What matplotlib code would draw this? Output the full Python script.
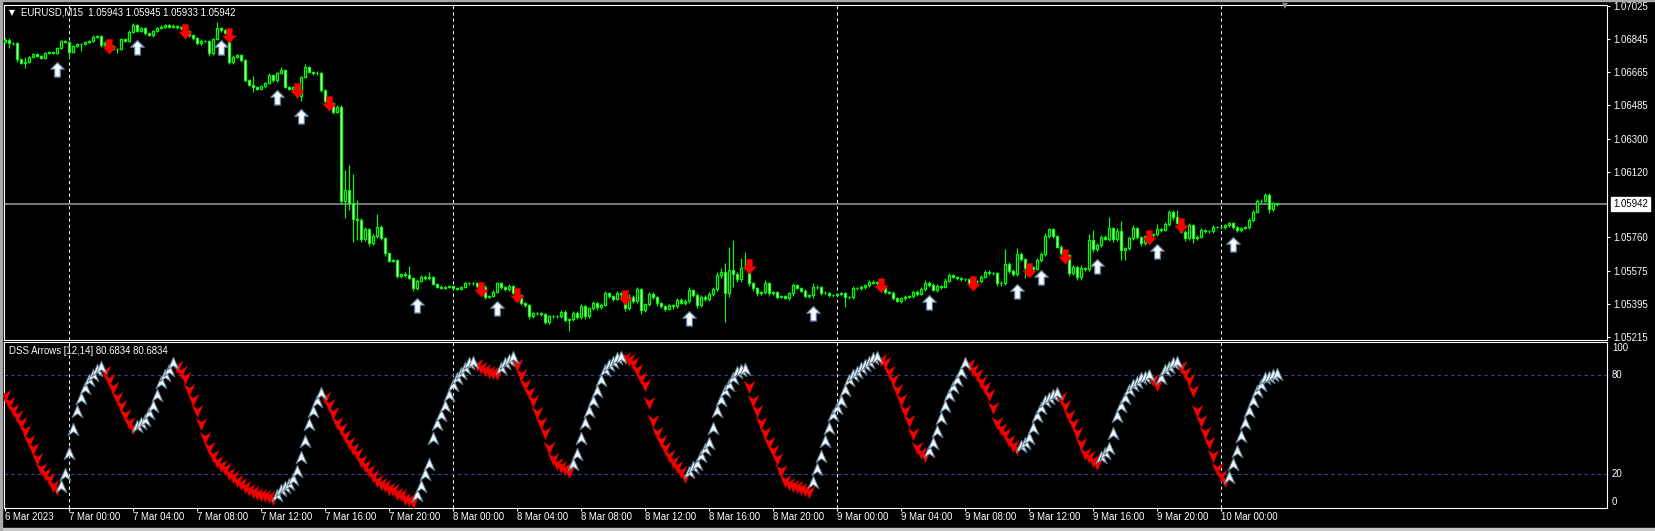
import matplotlib
matplotlib.use("Agg")
import matplotlib.pyplot as plt
from matplotlib.path import Path
from matplotlib.patches import Rectangle
import numpy as np

plt.rcParams['font.family'] = ['Liberation Sans', 'DejaVu Sans']

# ---------------- data ----------------
symbol = "EURUSD,M15"
last_ohlc = ["1.05943", "1.05945", "1.05933", "1.05942"]
dss_title = "DSS Arrows [12,14] 80.6834 80.6834"
last_price = 1.05942
first_open = 1.06830

closes = [
    1.06839, 1.06821, 1.06824, 1.06733, 1.06715, 1.06717, 1.06744, 1.06762, 1.06753, 1.06742, 1.06766, 1.06771, 1.06770, 1.06793, 1.06833, 1.06828,
    1.06775, 1.06806, 1.06815, 1.06817, 1.06830, 1.06835, 1.06857, 1.06859, 1.06812, 1.06824, 1.06806, 1.06788, 1.06790, 1.06843, 1.06835, 1.06885,
    1.06921, 1.06890, 1.06903, 1.06875, 1.06866, 1.06890, 1.06903, 1.06912, 1.06919, 1.06912, 1.06917, 1.06908, 1.06903, 1.06886, 1.06866, 1.06848,
    1.06821, 1.06835, 1.06833, 1.06766, 1.06843, 1.06903, 1.06894, 1.06879, 1.06720, 1.06748, 1.06757, 1.06730, 1.06620, 1.06593, 1.06580, 1.06573,
    1.06587, 1.06606, 1.06648, 1.06620, 1.06657, 1.06675, 1.06584, 1.06573, 1.06580, 1.06533, 1.06638, 1.06689, 1.06666, 1.06657, 1.06660, 1.06565,
    1.06507, 1.06496, 1.06447, 1.06474, 1.05960, 1.06019, 1.05946, 1.05858, 1.05855, 1.05749, 1.05803, 1.05727, 1.05767, 1.05818, 1.05754, 1.05672,
    1.05632, 1.05636, 1.05548, 1.05559, 1.05552, 1.05539, 1.05481, 1.05523, 1.05545, 1.05537, 1.05545, 1.05505, 1.05490, 1.05484, 1.05490, 1.05494,
    1.05481, 1.05479, 1.05490, 1.05508, 1.05510, 1.05508, 1.05494, 1.05490, 1.05435, 1.05441, 1.05463, 1.05508, 1.05486, 1.05475, 1.05494, 1.05457,
    1.05444, 1.05402, 1.05388, 1.05329, 1.05348, 1.05344, 1.05340, 1.05298, 1.05329, 1.05331, 1.05329, 1.05353, 1.05308, 1.05315, 1.05348, 1.05326,
    1.05384, 1.05329, 1.05371, 1.05402, 1.05377, 1.05391, 1.05453, 1.05439, 1.05424, 1.05453, 1.05448, 1.05371, 1.05432, 1.05413, 1.05475, 1.05362,
    1.05395, 1.05450, 1.05432, 1.05399, 1.05384, 1.05370, 1.05390, 1.05382, 1.05417, 1.05402, 1.05413, 1.05472, 1.05444, 1.05390, 1.05435, 1.05422,
    1.05450, 1.05475, 1.05554, 1.05572, 1.05453, 1.05581, 1.05559, 1.05530, 1.05590, 1.05596, 1.05508, 1.05481, 1.05453, 1.05461, 1.05508, 1.05453,
    1.05459, 1.05435, 1.05437, 1.05430, 1.05453, 1.05499, 1.05484, 1.05468, 1.05439, 1.05442, 1.05490, 1.05486, 1.05457, 1.05457, 1.05442, 1.05444,
    1.05450, 1.05455, 1.05432, 1.05432, 1.05481, 1.05483, 1.05488, 1.05497, 1.05517, 1.05512, 1.05514, 1.05490, 1.05459, 1.05457, 1.05426, 1.05413,
    1.05428, 1.05435, 1.05441, 1.05463, 1.05450, 1.05475, 1.05512, 1.05501, 1.05472, 1.05494, 1.05490, 1.05523, 1.05554, 1.05545, 1.05535, 1.05530,
    1.05530, 1.05505, 1.05523, 1.05519, 1.05545, 1.05572, 1.05563, 1.05566, 1.05508, 1.05512, 1.05614, 1.05577, 1.05559, 1.05669, 1.05639, 1.05590,
    1.05596, 1.05588, 1.05636, 1.05669, 1.05767, 1.05803, 1.05767, 1.05709, 1.05672, 1.05663, 1.05563, 1.05596, 1.05541, 1.05590, 1.05587, 1.05745,
    1.05694, 1.05718, 1.05763, 1.05752, 1.05809, 1.05749, 1.05796, 1.05690, 1.05701, 1.05754, 1.05809, 1.05760, 1.05727, 1.05767, 1.05772, 1.05776,
    1.05803, 1.05800, 1.05833, 1.05900, 1.05869, 1.05840, 1.05791, 1.05754, 1.05827, 1.05754, 1.05763, 1.05800, 1.05794, 1.05793, 1.05818, 1.05818,
    1.05814, 1.05825, 1.05836, 1.05818, 1.05800, 1.05811, 1.05816, 1.05855, 1.05900, 1.05960, 1.05960, 1.05991, 1.05913, 1.05946, 1.05942,
]

# wick lengths beyond the body, in points (0.00001)
wick_up = [
    10, 9, 6, 5, 4, 27, 6, 8, 5, 4, 6, 8, 5, 7, 6, 4,
    5, 6, 8, 4, 6, 5, 7, 9, 6, 8, 5, 4, 6, 7, 5, 8,
    9, 6, 5, 7, 4, 6, 5, 8, 6, 5, 7, 4, 6, 5, 7, 5,
    6, 8, 5, 4, 7, 36, 6, 5, 8, 7, 6, 5, 6, 8, 51, 6,
    7, 6, 9, 5, 8, 15, 6, 5, 7, 8, 6, 20, 6, 5, 7, 6,
    5, 8, 6, 9, 10, 109, 137, 160, 106, 8, 12, 6, 9, 69, 7, 6,
    5, 8, 6, 7, 9, 49, 6, 8, 9, 7, 27, 5, 6, 7, 5, 6,
    5, 4, 6, 8, 5, 4, 7, 6, 9, 5, 8, 10, 6, 7, 9, 6,
    7, 5, 6, 8, 6, 5, 7, 6, 8, 5, 6, 9, 7, 6, 8, 10,
    9, 7, 10, 8, 6, 9, 12, 7, 8, 14, 6, 9, 16, 12, 15, 10,
    8, 12, 9, 7, 10, 6, 8, 7, 9, 12, 8, 18, 7, 9, 8, 10,
    9, 12, 14, 20, 46, 128, 164, 12, 55, 86, 30, 8, 9, 7, 18, 10,
    7, 9, 6, 8, 10, 14, 8, 7, 9, 6, 18, 8, 7, 9, 6, 8,
    7, 6, 8, 6, 12, 7, 9, 6, 12, 8, 7, 6, 9, 7, 8, 6,
    7, 9, 6, 8, 10, 12, 14, 8, 7, 9, 6, 12, 10, 8, 6, 7,
    6, 8, 7, 6, 10, 12, 8, 7, 6, 9, 80, 10, 12, 31, 9, 8,
    7, 9, 12, 10, 14, 9, 8, 7, 9, 8, 6, 10, 8, 18, 7, 33,
    55, 12, 10, 8, 60, 9, 14, 55, 8, 12, 16, 9, 8, 7, 10, 6,
    30, 8, 12, 10, 8, 40, 9, 7, 12, 5, 8, 10, 7, 6, 9, 5,
    6, 7, 8, 6, 5, 7, 6, 9, 10, 12, 8, 14, 9, 7, 3,
]
wick_dn = [
    8, 27, 7, 12, 9, 27, 6, 5, 8, 7, 5, 6, 9, 6, 5, 7,
    36, 8, 6, 36, 7, 5, 8, 6, 9, 7, 8, 6, 18, 7, 9, 6,
    8, 7, 6, 9, 7, 8, 6, 5, 7, 6, 5, 8, 7, 6, 9, 8,
    7, 9, 6, 12, 8, 6, 9, 7, 10, 12, 8, 9, 10, 8, 24, 7,
    9, 8, 7, 10, 8, 6, 9, 7, 8, 10, 27, 8, 9, 7, 8, 12,
    10, 8, 12, 9, 10, 97, 36, 122, 109, 14, 10, 12, 9, 8, 10, 12,
    9, 8, 12, 10, 8, 9, 14, 10, 8, 9, 10, 8, 9, 7, 8, 9,
    8, 7, 9, 6, 8, 7, 9, 10, 12, 9, 8, 10, 9, 8, 10, 9,
    12, 10, 9, 14, 10, 9, 8, 12, 10, 9, 8, 10, 12, 58, 10, 14,
    12, 14, 10, 9, 12, 10, 9, 12, 10, 9, 12, 16, 10, 12, 14, 20,
    12, 10, 9, 12, 10, 14, 10, 12, 9, 8, 10, 12, 10, 14, 12, 9,
    10, 12, 9, 14, 155, 20, 69, 14, 12, 10, 14, 12, 16, 10, 12, 14,
    10, 12, 9, 8, 10, 12, 9, 8, 10, 12, 14, 9, 10, 8, 9, 10,
    9, 8, 51, 9, 10, 8, 9, 10, 8, 9, 10, 12, 9, 8, 10, 9,
    10, 8, 9, 12, 10, 8, 9, 10, 8, 9, 10, 8, 9, 10, 8, 9,
    9, 10, 8, 12, 10, 9, 8, 10, 12, 14, 10, 12, 9, 10, 8, 55,
    9, 10, 8, 9, 10, 8, 12, 10, 9, 12, 14, 10, 12, 14, 10, 9,
    12, 10, 9, 8, 10, 12, 9, 55, 55, 10, 8, 9, 12, 10, 9, 8,
    10, 9, 8, 10, 12, 9, 10, 12, 9, 27, 10, 8, 9, 10, 8, 9,
    10, 8, 9, 10, 12, 9, 8, 10, 12, 9, 10, 8, 18, 10, 9,
]

# bars carrying signal arrows on the price chart
up_signals = [13, 33, 54, 68, 74, 103, 123, 171, 202, 231, 253, 259, 273, 288, 307]
down_signals = [26, 45, 56, 73, 81, 119, 128, 155, 186, 219, 242, 256, 265, 286, 294]

dss = [
    67, 63, 59, 55, 51, 46, 40, 35, 29, 23, 20, 17, 13, 11,
    13, 20, 33, 47, 58, 66, 72, 77, 80, 83, 85,
    82, 77, 72, 66, 61, 56, 51, 48,
    49, 51, 53, 57, 61, 68, 76, 80, 83, 87,
    85, 82, 78, 71, 65, 58, 50, 42, 36, 31, 27, 25, 23, 20, 18, 16, 14, 12, 10, 9, 8, 7, 6.5, 6, 5,
    7, 10, 12, 14, 17, 22, 30, 40, 50, 58, 64, 69,
    66, 62, 57, 51, 47, 43, 39, 35, 32, 28, 25, 22, 19, 16, 14, 13, 11, 10, 8, 7, 5, 4, 3,
    7, 13, 20, 26, 42, 50, 56, 61, 68, 74, 78, 81, 84, 87, 88,
    86, 84, 83, 82, 81, 80.5, 84, 87, 89, 91,
    86, 80, 74, 69, 64, 57, 51, 45, 36, 29, 26, 24, 23, 21,
    26, 32, 42, 51, 58, 64, 70, 77, 83, 86, 88, 90, 91,
    90, 89, 87, 83, 78, 74, 63, 52, 45, 40, 36, 31, 27, 24, 21, 18,
    21, 24, 26, 31, 35, 39, 48, 58, 65, 70, 74, 78, 82, 83, 83.5,
    73, 64, 58, 51, 45, 39, 34, 29, 22, 16, 14, 13, 12, 11, 10, 9,
    15, 23, 31, 40, 48, 56, 60, 64, 71, 77, 80, 82, 84, 86, 88, 90, 91,
    89, 87, 82, 77, 71, 65, 58, 52, 44, 36, 33, 31,
    34, 39, 46, 54, 61, 68, 73, 77, 82, 87,
    86, 83, 80, 76, 72, 68, 60, 51, 47, 44, 40, 37, 35,
    37, 39, 42, 48, 55, 60, 64, 66, 68, 69,
    66, 61, 55, 50, 45, 38, 32, 30, 28, 26,
    30, 33, 36, 45, 55, 61, 66, 71, 74, 76, 78, 79, 80,
    77, 74, 78, 83, 85, 87, 88,
    85, 81, 77, 70, 58, 52, 45, 39, 31, 23, 19, 16,
    18, 26, 34, 43, 51, 58, 64, 70, 74, 78, 79, 80, 80.6834,
]

price_ticks = [1.07025, 1.06845, 1.06665, 1.06485, 1.06300, 1.06120,
               1.05760, 1.05575, 1.05395, 1.05215]
dss_levels = [80, 20]
dss_scale_labels = [("100", 96.4), ("80", 80), ("20", 20), ("0", 3.0)]
time_labels = ["6 Mar 2023", "7 Mar 00:00", "7 Mar 04:00", "7 Mar 08:00", "7 Mar 12:00",
               "7 Mar 16:00", "7 Mar 20:00", "8 Mar 00:00", "8 Mar 04:00", "8 Mar 08:00",
               "8 Mar 12:00", "8 Mar 16:00", "8 Mar 20:00", "9 Mar 00:00", "9 Mar 04:00",
               "9 Mar 08:00", "9 Mar 12:00", "9 Mar 16:00", "9 Mar 20:00", "10 Mar 00:00"]
bars_per_label = 16
day_starts = [16, 112, 208, 304]

# ---------------- figure ----------------
W, H = 1655, 531
fig = plt.figure(figsize=(W / 100, H / 100), dpi=100, facecolor='black')

def fx(px):
    return px / W

def fy(py):
    return 1 - py / H

ax = fig.add_axes([fx(4), fy(339.5), fx(1607) - fx(4), fy(5) - fy(339.5)])
ax2 = fig.add_axes([fx(4), fy(508.3), fx(1607) - fx(4), fy(341.5) - fy(508.3)])

LIME = '#00ff00'
n = len(closes)
x = np.arange(n)
c = np.array(closes)
o = np.concatenate([[first_open], c[:-1]])
wu = np.resize(np.array(wick_up, dtype=float), n)
wd = np.resize(np.array(wick_dn, dtype=float), n)
hi = np.maximum(o, c) + wu * 1e-5
lo = np.minimum(o, c) - wd * 1e-5

for a in (ax, ax2):
    a.set_facecolor('black')
    for sp in a.spines.values():
        sp.set_color('white')
        sp.set_linewidth(0.8)
    a.set_xlim(-0.25, 400.5)
    for d in day_starts:
        a.axvline(d, color='white', lw=0.75, ls=(0, (3, 3)), zorder=1)

# price chart
ax.set_ylim(1.052013, 1.070305)
ax.axhline(last_price, color='#9a9aa4', lw=1.1, zorder=1)
ax.vlines(x, lo, hi, color=LIME, lw=0.85, zorder=2)
bull = c >= o
bear = ~bull
ax.bar(x[bull], (c - o)[bull], bottom=o[bull], width=0.52, facecolor='black',
       edgecolor=LIME, linewidth=0.9, zorder=3)
ax.bar(x[bear], (o - c)[bear], bottom=c[bear], width=0.52, facecolor='white',
       edgecolor=LIME, linewidth=0.9, zorder=3)

px_price = (1.070305 - 1.052013) / 334.5
up_path = Path([(0, 0), (6.5, -6.5), (2.8, -6.5), (2.8, -14), (-2.8, -14), (-2.8, -6.5), (-6.5, -6.5), (0, 0)],
               [1, 2, 2, 2, 2, 2, 2, 79])
dn_path = Path([(-2.8, 0), (2.8, 0), (2.8, -7), (6.5, -7), (0, -14), (-6.5, -7), (-2.8, -7), (-2.8, 0)],
               [1, 2, 2, 2, 2, 2, 2, 79])
ui = np.array(up_signals)
di = np.array(down_signals)
ax.plot(ui, lo[ui] - 8 * px_price, ls='none', marker=up_path, ms=21,
        mfc='#f4faff', mec='#5b7896', mew=0.9, zorder=5)
ax.plot(di, hi[di] + 3 * px_price, ls='none', marker=dn_path, ms=21,
        mfc='#ff0000', mec='#d00000', mew=0.4, zorder=5)

ax.yaxis.tick_right()
ax.set_yticks(price_ticks)
ax.set_yticklabels([f"{p:.5f}" for p in price_ticks])
ax.tick_params(axis='y', colors='white', length=2.2, width=0.8, pad=2.2, labelsize=6.9)
ax.set_xticks([])
ax.annotate(f"{last_price:.5f}", xy=(1, last_price), xycoords=('axes fraction', 'data'),
            xytext=(6, 0), textcoords='offset pixels', va='center', ha='left',
            fontsize=6.9, color='black',
            bbox=dict(boxstyle='square,pad=0.25', fc='white', ec='white'))

# DSS panel
ax2.set_ylim(-0.8, 100.3)
for lv in dss_levels:
    ax2.axhline(lv, color='#40409c', lw=0.8, ls=(0, (3, 3)), zorder=1)
dv = np.array(dss, dtype=float)
m = len(dv)
xd = np.arange(m)
rising = np.concatenate([[False], dv[1:] > dv[:-1]])
red_head = Path([(-3.5, 4), (0, 1.5), (3.5, 4), (0, -4), (-3.5, 4)], [1, 2, 2, 2, 79])
white_head = Path([(-3.5, -4), (0, -1.5), (3.5, -4), (0, 4), (-3.5, -4)], [1, 2, 2, 2, 79])
ax2.plot(xd[~rising], dv[~rising], ls='none', marker=red_head, ms=9,
         mfc='#ff0000', mec='#b00000', mew=0.3, zorder=4)
ax2.plot(xd[rising], dv[rising], ls='none', marker=white_head, ms=9,
         mfc='#eef6ff', mec='#5f7d8c', mew=0.7, zorder=4)
ax2.set_yticks([])
for lab, v in dss_scale_labels:
    ax2.text(1.0 + 5 / (1607 - 4), v, lab, transform=ax2.get_yaxis_transform(), color='white',
             fontsize=6.9, va='center', ha='left')

ticks = np.arange(len(time_labels)) * bars_per_label
ax2.set_xticks(ticks)
ax2.set_xticklabels(time_labels)
ax2.tick_params(axis='x', colors='white', length=2.2, width=0.8, pad=0.8, labelsize=6.9)
for lbl in ax2.get_xticklabels():
    lbl.set_horizontalalignment('left')

# header texts
fig.text(fx(11.5), fy(12.5), "\u25bc", color='white', fontsize=5.5, ha='center', va='center',
         family='DejaVu Sans')
fig.text(fx(21), fy(12.5), f"{symbol}  " + " ".join(last_ohlc), color='white',
         fontsize=6.9, ha='left', va='center')
fig.text(fx(9), fy(351), dss_title, color='white', fontsize=6.9, ha='left', va='center')
fig.text(fx(1285), fy(6), "\u25bc", color='#8a8a8a', fontsize=5.5, ha='center', va='center',
         family='DejaVu Sans')

# window frame
fig.patches.append(Rectangle((0, 0), 1, 3 / H, transform=fig.transFigure,
                             color='#c8c8c8', zorder=10))
fig.patches.append(Rectangle((0, 0), 2 / W, 1, transform=fig.transFigure,
                             color='#a8a8a8', zorder=10))
fig.patches.append(Rectangle((0, 1 - 1 / H), 1, 1 / H, transform=fig.transFigure,
                             color='#a8a8a8', zorder=10))

fig.savefig("out.png", dpi=100, facecolor='black')
